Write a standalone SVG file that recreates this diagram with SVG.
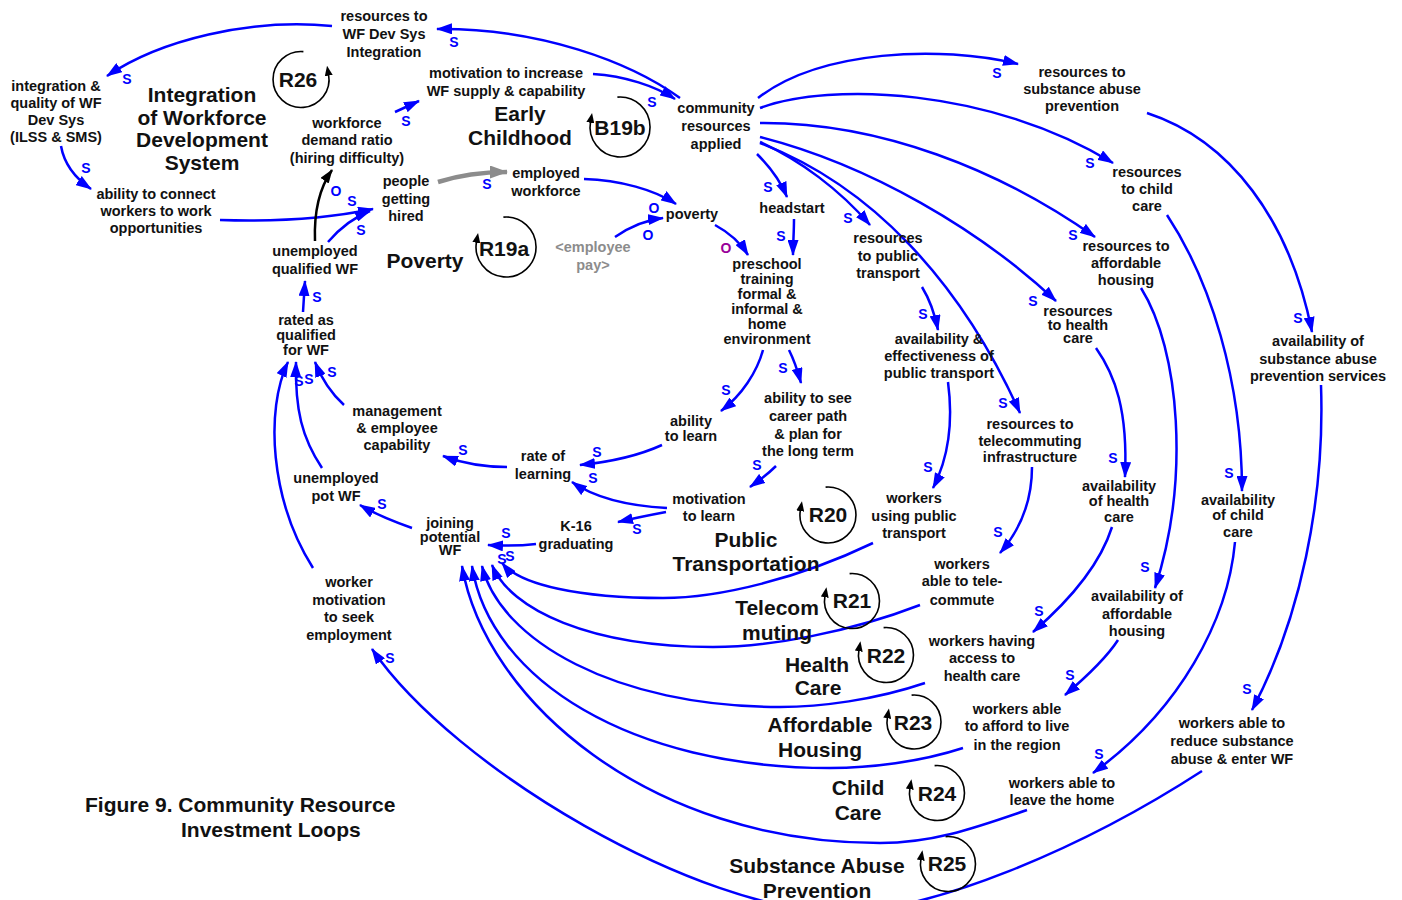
<svg xmlns="http://www.w3.org/2000/svg" width="1402" height="900" viewBox="0 0 1402 900">
<style>
text{font-family:"Liberation Sans",Arial,Helvetica,sans-serif;font-weight:bold;}
.n{font-size:14.5px;fill:#111;text-anchor:middle;}
.ttl{font-size:21px;fill:#111;text-anchor:middle;}
.cap{font-size:21px;fill:#111;}
.pay{font-size:14.5px;fill:#8c8c8c;text-anchor:middle;}
.pol{font-size:14px;fill:#0000ff;text-anchor:middle;}
.pp{fill:#990099;}
.lk{fill:none;stroke:#0000ff;stroke-width:2.5;marker-end:url(#ab);}
.lk-k{fill:none;stroke:#000;stroke-width:2.5;marker-end:url(#ak);}
.lk-g{fill:none;stroke:#8c8c8c;stroke-width:4.5;marker-end:url(#ag);}
.ring{fill:none;stroke:#000;stroke-width:1.6;marker-end:url(#la);}
</style>
<defs>
<marker id="ab" viewBox="0 0 16 11" refX="15" refY="5.5" markerWidth="16" markerHeight="11" markerUnits="userSpaceOnUse" orient="auto"><path d="M0,0 L16,5.5 L0,11 z" fill="#0000ff"/></marker>
<marker id="ak" viewBox="0 0 14 10" refX="13" refY="5" markerWidth="14" markerHeight="10" markerUnits="userSpaceOnUse" orient="auto"><path d="M0,0 L14,5 L0,10 z" fill="#000"/></marker>
<marker id="ag" viewBox="0 0 18 13" refX="17" refY="6.5" markerWidth="18" markerHeight="13" markerUnits="userSpaceOnUse" orient="auto"><path d="M0,0 L18,6.5 L0,13 z" fill="#8c8c8c"/></marker>
<marker id="la" viewBox="0 0 10 8" refX="1" refY="4" markerWidth="10" markerHeight="8" markerUnits="userSpaceOnUse" orient="auto"><path d="M0,0 L10,4 L0,8 z" fill="#000"/></marker>
</defs>
<rect width="1402" height="900" fill="#fff"/>

<!-- causal links and their polarity marks -->
<g id="connectors">
<path class="lk" d="M680,98 C630,62 540,28 437,29"/>
<path class="lk" d="M332,26 C250,18 160,40 107,76"/>
<path class="lk" d="M61,146 C64,163 75,178 91,189"/>
<path class="lk" d="M220,220 C280,222 330,218 373,209"/>
<path class="lk" d="M328,242 C340,228 352,218 370,211"/>
<path class="lk-k" d="M315,241 C314,215 318,190 332,170"/>
<path class="lk" d="M395,112 L419,101"/>
<path class="lk" d="M593,74 C625,76 655,86 675,99"/>
<path class="lk-g" d="M438,182 C460,175 485,172 507,172"/>
<path class="lk" d="M584,179 C620,180 655,190 676,204"/>
<path class="lk" d="M615,237 C628,228 645,220 663,218"/>
<path class="lk" d="M715,225 C728,232 740,242 748,255"/>
<path class="lk" d="M757,154 C768,165 780,180 787,197"/>
<path class="lk" d="M794,219 C794,232 793,244 793,255"/>
<path class="lk" d="M760,142 C800,160 840,190 870,225"/>
<path class="lk" d="M922,287 C930,300 935,315 938,330"/>
<path class="lk" d="M760,143 C870,185 960,280 1020,413"/>
<path class="lk" d="M760,137 C870,165 980,230 1056,301"/>
<path class="lk" d="M760,123 C880,122 1000,170 1095,237"/>
<path class="lk" d="M760,108 C830,82 990,88 1113,163"/>
<path class="lk" d="M758,98 C820,50 940,45 1018,64"/>
<path class="lk" d="M1147,113 C1230,140 1290,220 1312,332"/>
<path class="lk" d="M1167,215 C1210,280 1242,380 1242,491"/>
<path class="lk" d="M1141,288 C1180,350 1190,480 1155,588"/>
<path class="lk" d="M1096,348 C1115,375 1128,410 1125,477"/>
<path class="lk" d="M1032,467 C1032,500 1020,530 1000,553"/>
<path class="lk" d="M948,382 C953,420 950,455 933,488"/>
<path class="lk" d="M1112,527 C1100,565 1070,600 1033,632"/>
<path class="lk" d="M1118,640 C1105,660 1085,678 1065,695"/>
<path class="lk" d="M1235,542 C1228,620 1180,710 1093,773"/>
<path class="lk" d="M1321,385 C1325,500 1300,620 1252,710"/>
<path class="lk" d="M763,350 C757,372 742,395 721,411"/>
<path class="lk" d="M789,350 C794,360 798,372 801,383"/>
<path class="lk" d="M662,445 C640,455 610,462 580,465"/>
<path class="lk" d="M776,466 C768,474 760,480 750,487"/>
<path class="lk" d="M667,508 C630,506 595,498 572,482"/>
<path class="lk" d="M666,512 C650,515 635,518 618,522"/>
<path class="lk" d="M507,467 C485,467 462,463 443,456"/>
<path class="lk" d="M536,544 C520,546 505,546 488,545"/>
<path class="lk" d="M412,528 C395,522 375,514 360,505"/>
<path class="lk" d="M344,405 C333,395 322,380 315,362"/>
<path class="lk" d="M322,468 C302,438 295,410 296,362"/>
<path class="lk" d="M313,568 C270,500 265,410 288,362"/>
<path class="lk" d="M303,312 L305,281"/>
<path class="lk" d="M873,543 C800,578 720,598 663,598 C580,598 520,585 502,563"/>
<path class="lk" d="M920,605 C850,632 770,647 713,647 C591,647 510,610 492,565"/>
<path class="lk" d="M925,683 C875,700 820,707 780,707 C615,707 500,640 482,566"/>
<path class="lk" d="M963,748 C920,762 870,768 830,768 C632,768 490,680 472,566"/>
<path class="lk" d="M1027,810 C970,830 930,843 880,843 C649,843 485,700 462,566"/>
<path class="lk" d="M1202,771 C1080,850 930,912 840,912 C700,912 455,770 372,649"/>

<g id="polarity">
<text class="pol" x="454" y="47">S</text>
<text class="pol" x="127" y="84">S</text>
<text class="pol" x="86" y="173">S</text>
<text class="pol" x="352" y="206">S</text>
<text class="pol" x="361" y="235">S</text>
<text class="pol" x="336" y="196">O</text>
<text class="pol" x="406" y="126">S</text>
<text class="pol" x="652" y="107">S</text>
<text class="pol" x="487" y="189">S</text>
<text class="pol" x="654" y="213">O</text>
<text class="pol" x="648" y="240">O</text>
<text class="pol pp" x="726" y="253">O</text>
<text class="pol" x="768" y="192">S</text>
<text class="pol" x="781" y="241">S</text>
<text class="pol" x="848" y="223">S</text>
<text class="pol" x="923" y="319">S</text>
<text class="pol" x="1003" y="408">S</text>
<text class="pol" x="1033" y="306">S</text>
<text class="pol" x="1073" y="240">S</text>
<text class="pol" x="1090" y="168">S</text>
<text class="pol" x="997" y="78">S</text>
<text class="pol" x="1298" y="323">S</text>
<text class="pol" x="1229" y="478">S</text>
<text class="pol" x="1145" y="572">S</text>
<text class="pol" x="1113" y="463">S</text>
<text class="pol" x="998" y="537">S</text>
<text class="pol" x="928" y="472">S</text>
<text class="pol" x="1039" y="616">S</text>
<text class="pol" x="1070" y="680">S</text>
<text class="pol" x="1099" y="759">S</text>
<text class="pol" x="1247" y="694">S</text>
<text class="pol" x="726" y="395">S</text>
<text class="pol" x="783" y="373">S</text>
<text class="pol" x="597" y="457">S</text>
<text class="pol" x="757" y="470">S</text>
<text class="pol" x="593" y="483">S</text>
<text class="pol" x="637" y="534">S</text>
<text class="pol" x="463" y="455">S</text>
<text class="pol" x="506" y="538">S</text>
<text class="pol" x="382" y="509">S</text>
<text class="pol" x="332" y="377">S</text>
<text class="pol" x="299" y="386">S</text>
<text class="pol" x="309" y="384">S</text>
<text class="pol" x="317" y="302">S</text>
<text class="pol" x="390" y="663">S</text>
<text class="pol" x="502" y="564">S</text>
<text class="pol" x="510" y="561">S</text>
</g>
</g>

<!-- loop markers -->
<g id="loop-R26"><path class="ring" d="M303.4,51.6 A28,28 0 1 0 328.6,74.6"/><text class="ttl" x="298" y="86.5">R26</text></g>
<g id="loop-B19b"><path class="ring" d="M617.4,97.1 A30,30 0 1 1 590.5,121.8"/><text class="ttl" x="620" y="134.5">B19b</text></g>
<g id="loop-R19a"><path class="ring" d="M503.4,217.1 A30,30 0 1 1 476.5,241.8"/><text class="ttl" x="504" y="255.5">R19a</text></g>
<g id="loop-R20"><path class="ring" d="M825.6,487.1 A28,28 0 1 1 800.4,510.1"/><text class="ttl" x="828" y="522">R20</text></g>
<g id="loop-R21"><path class="ring" d="M849.6,573.6 A27.5,27.5 0 1 1 824.9,596.2"/><text class="ttl" x="852" y="608">R21</text></g>
<g id="loop-R22"><path class="ring" d="M883.6,627.6 A27.5,27.5 0 1 1 858.9,650.2"/><text class="ttl" x="886" y="662.5">R22</text></g>
<g id="loop-R23"><path class="ring" d="M911.6,695.1 A27,27 0 1 1 887.4,717.3"/><text class="ttl" x="913" y="729.5">R23</text></g>
<g id="loop-R24"><path class="ring" d="M934.6,765.6 A27.5,27.5 0 1 1 909.9,788.2"/><text class="ttl" x="937" y="800.5">R24</text></g>
<g id="loop-R25"><path class="ring" d="M945.6,836.6 A27.5,27.5 0 1 1 920.9,859.2"/><text class="ttl" x="947" y="871">R25</text></g>

<!-- loop titles -->
<g id="title-integration"><text class="ttl"><tspan x="202" y="101.5">Integration</tspan><tspan x="202" y="124.5">of Workforce</tspan><tspan x="202" y="147">Development</tspan><tspan x="202" y="169.5">System</tspan></text></g>
<g id="title-early-childhood"><text class="ttl"><tspan x="520" y="120.5">Early</tspan><tspan x="520" y="145">Childhood</tspan></text></g>
<g id="title-poverty"><text class="ttl" x="425" y="268">Poverty</text></g>
<g id="title-public-transport"><text class="ttl"><tspan x="746" y="546.5">Public</tspan><tspan x="746" y="571">Transportation</tspan></text></g>
<g id="title-telecommuting"><text class="ttl"><tspan x="777" y="615">Telecom</tspan><tspan x="777" y="640">muting</tspan></text></g>
<g id="title-health-care"><text class="ttl"><tspan x="817" y="672">Health</tspan><tspan x="818" y="695">Care</tspan></text></g>
<g id="title-affordable-housing"><text class="ttl"><tspan x="820" y="732">Affordable</tspan><tspan x="820" y="756.5">Housing</tspan></text></g>
<g id="title-child-care"><text class="ttl"><tspan x="858" y="795">Child</tspan><tspan x="858" y="820">Care</tspan></text></g>
<g id="title-substance-abuse"><text class="ttl"><tspan x="817" y="872.5">Substance Abuse</tspan><tspan x="817" y="897.5">Prevention</tspan></text></g>

<!-- variables -->
<g id="node-res-wfdev"><text class="n"><tspan x="384" y="21">resources to</tspan><tspan x="384" y="39">WF Dev Sys</tspan><tspan x="384" y="56.5">Integration</tspan></text></g>
<g id="node-integration-quality"><text class="n"><tspan x="56" y="91">integration &amp;</tspan><tspan x="56" y="108">quality of WF</tspan><tspan x="56" y="125">Dev Sys</tspan><tspan x="56" y="142">(ILSS &amp; SMS)</tspan></text></g>
<g id="node-motivation-increase"><text class="n"><tspan x="506" y="77.5">motivation to increase</tspan><tspan x="506" y="95.5">WF supply &amp; capability</tspan></text></g>
<g id="node-demand-ratio"><text class="n"><tspan x="347" y="127.5">workforce</tspan><tspan x="347" y="145">demand ratio</tspan><tspan x="347" y="162.5">(hiring difficulty)</tspan></text></g>
<g id="node-community-resources"><text class="n"><tspan x="716" y="112.5">community</tspan><tspan x="716" y="130.5">resources</tspan><tspan x="716" y="148.5">applied</tspan></text></g>
<g id="node-res-substance"><text class="n"><tspan x="1082" y="77">resources to</tspan><tspan x="1082" y="94">substance abuse</tspan><tspan x="1082" y="111">prevention</tspan></text></g>
<g id="node-res-childcare"><text class="n"><tspan x="1147" y="177">resources</tspan><tspan x="1147" y="194">to child</tspan><tspan x="1147" y="211">care</tspan></text></g>
<g id="node-res-housing"><text class="n"><tspan x="1126" y="250.5">resources to</tspan><tspan x="1126" y="267.5">affordable</tspan><tspan x="1126" y="284.5">housing</tspan></text></g>
<g id="node-avail-substance"><text class="n"><tspan x="1318" y="346">availability of</tspan><tspan x="1318" y="363.5">substance abuse</tspan><tspan x="1318" y="380.5">prevention services</tspan></text></g>
<g id="node-ability-connect"><text class="n"><tspan x="156" y="198.5">ability to connect</tspan><tspan x="156" y="215.5">workers to work</tspan><tspan x="156" y="232.5">opportunities</tspan></text></g>
<g id="node-people-hired"><text class="n"><tspan x="406" y="186">people</tspan><tspan x="406" y="204">getting</tspan><tspan x="406" y="221">hired</tspan></text></g>
<g id="node-employed"><text class="n"><tspan x="546" y="178">employed</tspan><tspan x="546" y="196">workforce</tspan></text></g>
<g id="node-poverty"><text class="n" x="692" y="219">poverty</text></g>
<g id="node-employee-pay"><text class="pay"><tspan x="593" y="252">&lt;employee</tspan><tspan x="593" y="270">pay&gt;</tspan></text></g>
<g id="node-unemployed-qualified"><text class="n"><tspan x="315" y="256">unemployed</tspan><tspan x="315" y="273.5">qualified WF</tspan></text></g>
<g id="node-headstart"><text class="n" x="792" y="213">headstart</text></g>
<g id="node-preschool"><text class="n"><tspan x="767" y="269">preschool</tspan><tspan x="767" y="284">training</tspan><tspan x="767" y="299">formal &amp;</tspan><tspan x="767" y="314">informal &amp;</tspan><tspan x="767" y="329">home</tspan><tspan x="767" y="344">environment</tspan></text></g>
<g id="node-res-transport"><text class="n"><tspan x="888" y="243">resources</tspan><tspan x="888" y="260.5">to public</tspan><tspan x="888" y="278">transport</tspan></text></g>
<g id="node-avail-transport"><text class="n"><tspan x="939" y="344">availability &amp;</tspan><tspan x="939" y="361">effectiveness of</tspan><tspan x="939" y="377.5">public transport</tspan></text></g>
<g id="node-res-health"><text class="n"><tspan x="1078" y="316">resources</tspan><tspan x="1078" y="329.5">to health</tspan><tspan x="1078" y="343">care</tspan></text></g>
<g id="node-res-telecom"><text class="n"><tspan x="1030" y="428.5">resources to</tspan><tspan x="1030" y="445.5">telecommuting</tspan><tspan x="1030" y="462">infrastructure</tspan></text></g>
<g id="node-avail-health"><text class="n"><tspan x="1119" y="490.5">availability</tspan><tspan x="1119" y="506">of health</tspan><tspan x="1119" y="521.5">care</tspan></text></g>
<g id="node-avail-childcare"><text class="n"><tspan x="1238" y="504.5">availability</tspan><tspan x="1238" y="520">of child</tspan><tspan x="1238" y="536.5">care</tspan></text></g>
<g id="node-rated-qualified"><text class="n"><tspan x="306" y="324.5">rated as</tspan><tspan x="306" y="339.5">qualified</tspan><tspan x="306" y="354.5">for WF</tspan></text></g>
<g id="node-management"><text class="n"><tspan x="397" y="415.5">management</tspan><tspan x="397" y="433">&amp; employee</tspan><tspan x="397" y="450">capability</tspan></text></g>
<g id="node-rate-learning"><text class="n"><tspan x="543" y="460.5">rate of</tspan><tspan x="543" y="478.5">learning</tspan></text></g>
<g id="node-ability-learn"><text class="n"><tspan x="691" y="426">ability</tspan><tspan x="691" y="441">to learn</tspan></text></g>
<g id="node-career-path"><text class="n"><tspan x="808" y="403">ability to see</tspan><tspan x="808" y="420.5">career path</tspan><tspan x="808" y="438.5">&amp; plan for</tspan><tspan x="808" y="456">the long term</tspan></text></g>
<g id="node-motivation-learn"><text class="n"><tspan x="709" y="503.5">motivation</tspan><tspan x="709" y="520.5">to learn</tspan></text></g>
<g id="node-using-transport"><text class="n"><tspan x="914" y="503">workers</tspan><tspan x="914" y="520.5">using public</tspan><tspan x="914" y="538">transport</tspan></text></g>
<g id="node-unemployed-pot"><text class="n"><tspan x="336" y="483">unemployed</tspan><tspan x="336" y="500.5">pot WF</tspan></text></g>
<g id="node-joining"><text class="n"><tspan x="450" y="528">joining</tspan><tspan x="450" y="541.5">potential</tspan><tspan x="450" y="555">WF</tspan></text></g>
<g id="node-k16"><text class="n"><tspan x="576" y="531">K-16</tspan><tspan x="576" y="548.5">graduating</tspan></text></g>
<g id="node-worker-motivation"><text class="n"><tspan x="349" y="587">worker</tspan><tspan x="349" y="604.5">motivation</tspan><tspan x="349" y="622">to seek</tspan><tspan x="349" y="640">employment</tspan></text></g>
<g id="node-telecommute"><text class="n"><tspan x="962" y="568.5">workers</tspan><tspan x="962" y="586">able to tele-</tspan><tspan x="962" y="604.5">commute</tspan></text></g>
<g id="node-health-access"><text class="n"><tspan x="982" y="645.5">workers having</tspan><tspan x="982" y="663">access to</tspan><tspan x="982" y="680.5">health care</tspan></text></g>
<g id="node-avail-housing"><text class="n"><tspan x="1137" y="601">availability of</tspan><tspan x="1137" y="618.5">affordable</tspan><tspan x="1137" y="635.5">housing</tspan></text></g>
<g id="node-afford-live"><text class="n"><tspan x="1017" y="713.5">workers able</tspan><tspan x="1017" y="731">to afford to live</tspan><tspan x="1017" y="749.5">in the region</tspan></text></g>
<g id="node-leave-home"><text class="n"><tspan x="1062" y="788">workers able to</tspan><tspan x="1062" y="805">leave the home</tspan></text></g>
<g id="node-reduce-substance"><text class="n"><tspan x="1232" y="728">workers able to</tspan><tspan x="1232" y="745.5">reduce substance</tspan><tspan x="1232" y="763.5">abuse &amp; enter WF</tspan></text></g>

<!-- caption -->
<g id="caption"><text class="cap"><tspan x="85" y="812">Figure 9. Community Resource</tspan><tspan x="181" y="837">Investment Loops</tspan></text></g>
</svg>
